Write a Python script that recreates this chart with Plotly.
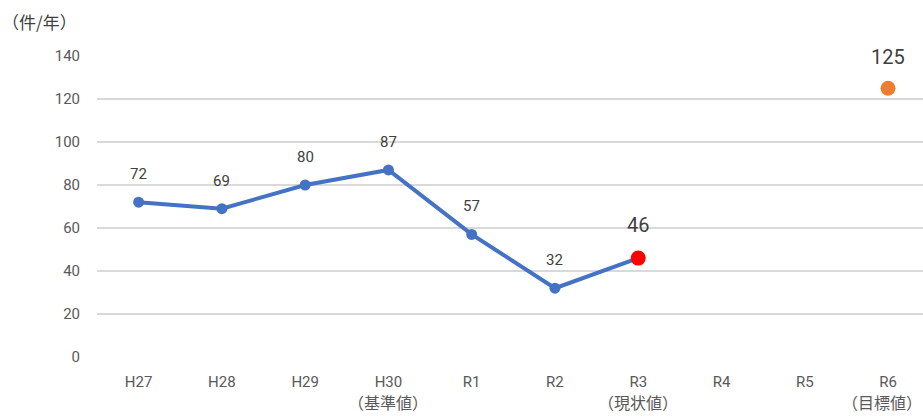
import plotly.graph_objects as go

# 年度別の件数（H27〜R3 実績、R6 目標）
years = ["H27", "H28", "H29", "H30", "R1", "R2", "R3", "R4", "R5", "R6"]
notes = {"H30": "（基準値）", "R3": "（現状値）", "R6": "（目標値）"}
actual_years = ["H27", "H28", "H29", "H30", "R1", "R2", "R3"]
actual_values = [72, 69, 80, 87, 57, 32, 46]
current_year = "R3"
current_value = 46
target_year = "R6"
target_value = 125

FONT = "Roboto, Noto Sans CJK JP, sans-serif"
JP_FONT = "Noto Sans CJK JP, sans-serif"
BLUE = "#4472C4"

fig = go.Figure()

# 実績の推移
fig.add_trace(go.Scatter(
    x=actual_years, y=actual_values,
    mode="lines+markers",
    line=dict(color=BLUE, width=4),
    marker=dict(color=BLUE, size=11),
    cliponaxis=False,
    hoverinfo="x+y",
))

# 現状値
fig.add_trace(go.Scatter(
    x=[current_year], y=[current_value],
    mode="markers",
    marker=dict(color="#FF0000", size=15),
    cliponaxis=False,
))

# 目標値
fig.add_trace(go.Scatter(
    x=[target_year], y=[target_value],
    mode="markers",
    marker=dict(color="#ED7D31", size=15),
    cliponaxis=False,
))

annotations = []
# 実績値ラベル
for yr, v in zip(actual_years[:-1], actual_values[:-1]):
    annotations.append(dict(
        x=yr, y=v, xref="x", yref="y", text=str(v), showarrow=False,
        yshift=28, font=dict(family=FONT, size=15, color="#404040"),
    ))
# 現状値・目標値ラベル
for yr, v, shift in [(current_year, current_value, 33), (target_year, target_value, 31)]:
    annotations.append(dict(
        x=yr, y=v, xref="x", yref="y", text=str(v), showarrow=False,
        yshift=shift, font=dict(family=FONT, size=20, color="#404040"),
    ))
# 区分の注記（軸ラベルの下段）
for yr, note in notes.items():
    last = yr == years[-1]
    annotations.append(dict(
        x=1 if last else yr, y=0, xref="paper" if last else "x", yref="paper",
        xanchor="right" if last else "center",
        text=note, showarrow=False, yshift=-45, yanchor="middle",
        borderpad=0,
        font=dict(family=JP_FONT, size=16, color="#595959"),
    ))
# 単位
annotations.append(dict(
    text="（件/年）", xref="paper", yref="paper",
    x=-97 / 826, y=1, yshift=35, xanchor="left", yanchor="middle",
    showarrow=False, font=dict(family=JP_FONT, size=17, color="#404040"),
))

fig.update_layout(
    width=923, height=416,
    margin=dict(l=97, r=0, t=56, b=59),
    paper_bgcolor="white", plot_bgcolor="white",
    showlegend=False,
    font=dict(family=FONT, size=15, color="#595959"),
    xaxis=dict(
        type="category",
        categoryorder="array", categoryarray=years,
        tickmode="array", tickvals=years, ticktext=years,
        range=[-0.5, 9.42],
        showgrid=False, zeroline=False, showline=False,
        ticks="", ticklabelstandoff=14,
        tickfont=dict(family=FONT, size=15, color="#595959"),
    ),
    yaxis=dict(
        range=[0, 140], dtick=20,
        showgrid=True, gridcolor="#D9D9D9", gridwidth=1.5,
        zeroline=False, showline=False, ticks="",
        ticklabelstandoff=16,
        tickfont=dict(family=FONT, size=15, color="#595959"),
    ),
    annotations=annotations,
)

fig.write_html("out.html")
